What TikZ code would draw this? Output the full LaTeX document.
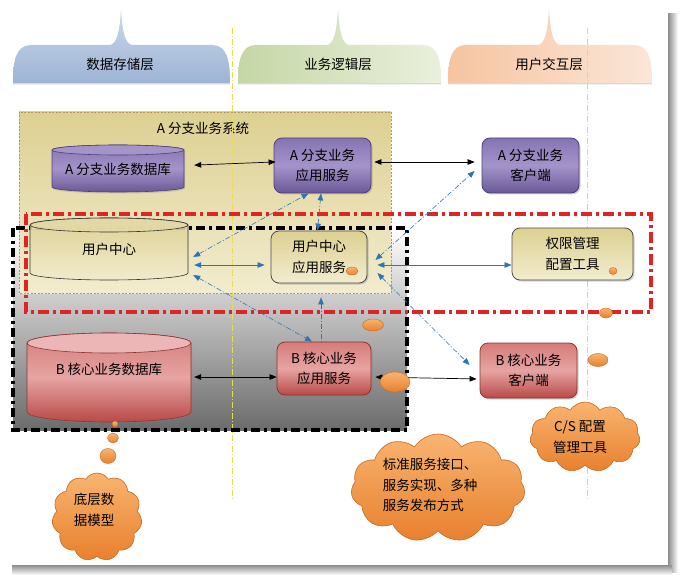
\documentclass[tikz,border=0pt]{standalone}
\usepackage{fontspec}
\setmainfont{Noto Sans CJK SC}
\usetikzlibrary{arrows.meta,shapes.symbols,shapes.geometric,shadows}

\definecolor{tabblue}{HTML}{B4C8E2}
\definecolor{tabbluedk}{HTML}{9DB4D4}
\definecolor{tabgreen}{HTML}{DCE6C6}
\definecolor{tabgreendk}{HTML}{C5D6A6}
\definecolor{taborange}{HTML}{F6C4A0}
\definecolor{taborangelt}{HTML}{FBE6D8}
\definecolor{khakitop}{HTML}{DDD092}
\definecolor{khakibot}{HTML}{F2ECCE}
\definecolor{khakiedge}{HTML}{B39A52}
\definecolor{purpletop}{HTML}{8674B2}
\definecolor{purplemid}{HTML}{A494CA}
\definecolor{purplebot}{HTML}{6A5896}
\definecolor{purpleedge}{HTML}{4E3F75}
\definecolor{redtop}{HTML}{D47C7A}
\definecolor{redmid}{HTML}{E6A4A2}
\definecolor{redbot}{HTML}{B84A48}
\definecolor{rededge}{HTML}{8C3432}
\definecolor{linkblue}{HTML}{2E75B6}
\definecolor{boxred}{HTML}{E02424}
\definecolor{guideyellow}{HTML}{E8DC50}
\definecolor{orangetop}{HTML}{F8B470}
\definecolor{orangebot}{HTML}{E8802E}
\definecolor{orangeedge}{HTML}{C86A20}

\begin{document}
\begin{tikzpicture}[x=1pt, y=-1pt, font=\fontsize{13.5}{20.5}\selectfont,
    >={Triangle[length=7pt,width=5.5pt]},
    blk/.style={<->, black, line width=0.7pt},
    blu/.style={<->, linkblue, line width=0.7pt},
    bludd/.style={<->, linkblue, line width=0.6pt, dash pattern=on 5pt off 2pt on 1pt off 2pt},
    guide/.style={guideyellow, line width=0.6pt, dash pattern=on 6pt off 2pt on 1pt off 2pt},
    svcbox/.style={rectangle, rounded corners=8pt, line width=0.8pt, align=center,
      minimum width=97, minimum height=55, inner sep=2pt,
      drop shadow={opacity=0.35, shadow xshift=1.5pt, shadow yshift=-1.5pt}},
    purplebox/.style={svcbox, draw=purpleedge, top color=purpletop, bottom color=purplebot, middle color=purplemid},
    redbox/.style={svcbox, draw=rededge, top color=redtop, bottom color=redbot, middle color=redmid},
    khakibox/.style={svcbox, draw=black!70, top color=khakitop, bottom color=khakibot},
    thought/.style={cloud, cloud puffs=11, cloud puff arc=115, cloud ignores aspect, draw=orangeedge, line width=0.6pt,
      top color=orangetop, bottom color=orangebot, inner sep=0pt},
    bubble/.style={draw=orangeedge, line width=0.4pt, top color=orangetop, bottom color=orangebot}]

    \useasboundingbox (0,0) rectangle (684,585);

    % cornice
    \fill[white] (0,0) rectangle (684,585);
    \shade[left color=black!45, right color=white] (668,14) rectangle (678,572);
    \shade[top color=black!45, bottom color=white] (12,565) rectangle (672,575);
    \fill[white] (6,6) rectangle (668,565);

    % livelli
    \shade[top color=tabblue!70, bottom color=tabbluedk, drop shadow={opacity=0.3, shadow xshift=0pt, shadow yshift=-1.5pt}]
      (13,83) .. controls (13,60) and (16,46) .. (30,45) -- (110,45)
      .. controls (117,44) and (120,30) .. (121,10) .. controls (122,30) and (125,44) .. (132,45)
      -- (213,45) .. controls (227,46) and (230,60) .. (230,83) -- cycle;
    \shade[left color=tabgreendk, right color=tabgreen!60, drop shadow={opacity=0.3, shadow xshift=0pt, shadow yshift=-1.5pt}]
      (238,83) .. controls (238,60) and (241,46) .. (255,45) -- (327,45)
      .. controls (334,44) and (337,30) .. (338,10) .. controls (339,30) and (342,44) .. (349,45)
      -- (424,45) .. controls (438,46) and (441,60) .. (441,83) -- cycle;
    \shade[left color=taborange, right color=taborangelt, drop shadow={opacity=0.3, shadow xshift=0pt, shadow yshift=-1.5pt}]
      (448,83) .. controls (448,60) and (451,46) .. (465,45) -- (538,45)
      .. controls (545,44) and (548,30) .. (549,10) .. controls (550,30) and (553,44) .. (560,45)
      -- (635,45) .. controls (649,46) and (652,60) .. (652,83) -- cycle;
    \node (hdata) at (120,64) {数据存储层};
    \node (hlogic) at (338,64) {业务逻辑层};
    \node (hui) at (549,64) {用户交互层};

    % riquadri
    \shade[top color=white, bottom color=black!58] (13,228) rectangle (407,430);
    \shadedraw[top color=khakitop, bottom color=khakibot, draw=khakiedge, line width=0.6pt,
      dash pattern=on 2pt off 1.5pt] (19,112) rectangle (391,293);
    \node (asys) at (203,128) {A 分支业务系统};

    \draw[guide] (232,28) -- (232,500);
    \draw[guide] (587,28) -- (587,500);

    \draw[black, line width=3.2pt, dash pattern=on 9pt off 4pt on 3pt off 4pt] (13,228) rectangle (407,430);
    \draw[boxred, line width=3.2pt, dash pattern=on 11pt off 4pt on 3pt off 4pt] (26,214) rectangle (651,312);

    % cilindri
    \shadedraw[top color=purpletop, bottom color=purplebot, middle color=purplemid, draw=purpleedge, line width=0.6pt,
      drop shadow={opacity=0.3, shadow xshift=1pt, shadow yshift=-1.5pt}]
      (52,150) -- (52,187) arc[start angle=180, end angle=360, x radius=66pt, y radius=5pt]
      -- (184,150) arc[start angle=0, end angle=180, x radius=66pt, y radius=5pt] -- cycle;
    \draw[purpleedge, fill=purplemid, line width=0.6pt] (118,150) ellipse[x radius=66pt, y radius=5pt];
    \node[minimum width=132, minimum height=47, inner sep=0pt] (dbA) at (118,169) {A 分支业务数据库};

    \shadedraw[top color=khakitop, bottom color=khakibot, draw=black!80, line width=0.6pt, fill opacity=0.9]
      (30,225) -- (30,273) arc[start angle=180, end angle=360, x radius=79pt, y radius=7pt]
      -- (188,225) arc[start angle=0, end angle=180, x radius=79pt, y radius=7pt] -- cycle;
    \draw[black!80, fill=khakitop!80, fill opacity=0.85, line width=0.6pt] (109,225) ellipse[x radius=79pt, y radius=7pt];
    \node[minimum width=158, minimum height=40, inner sep=0pt] (dbUC) at (109,249) {用户中心};

    \shadedraw[top color=redtop, bottom color=redbot, middle color=redmid, draw=rededge, line width=0.6pt,
      drop shadow={opacity=0.3, shadow xshift=1pt, shadow yshift=-1.5pt}]
      (27,343) -- (27,412) arc[start angle=180, end angle=360, x radius=82pt, y radius=10pt]
      -- (191,343) arc[start angle=0, end angle=180, x radius=82pt, y radius=10pt] -- cycle;
    \draw[rededge, fill=redmid!80!white, line width=0.6pt] (109,343) ellipse[x radius=82pt, y radius=10pt];
    \node[minimum width=164, minimum height=60, inner sep=0pt] (dbB) at (109,369) {B 核心业务数据库};

    % nodi
    \node[purplebox] (svcA) at (322.5,165.5) {A 分支业务\\应用服务};
    \node[purplebox] (cliA) at (530.5,165.5) {A 分支业务\\客户端};
    \node[khakibox, minimum width=96, minimum height=52] (svcUC) at (319,257) {用户中心\\应用服务};
    \node[khakibox, minimum width=121, minimum height=52] (perm) at (572.5,254) {权限管理\\配置工具};
    \node[redbox, minimum width=94, minimum height=53] (svcB) at (324,368.5) {B 核心业务\\应用服务};
    \node[redbox, minimum width=97] (cliB) at (528.5,370.5) {B 核心业务\\客户端};

    % collegamenti
    \draw[blk, shorten <=10pt, shorten >=-2pt] ([yshift=3.5pt]dbA.east) -- ([yshift=3.5pt]svcA.west);
    \draw[blk, shorten <=3pt, shorten >=7pt] ([yshift=3.5pt]svcA.east) -- ([yshift=3.5pt]cliA.west);
    \draw[blu, shorten <=6pt, shorten >=6pt] ([shift={(0,16)}]dbUC.east) -- ([shift={(0,8)}]svcUC.west);
    \draw[blu, shorten <=10pt] ([shift={(0,8)}]svcUC.east) -- ([shift={(0,11)}]perm.west);
    \draw[blk, shorten <=3pt] ([shift={(0,8)}]dbB.east) -- ([shift={(0,8.5)}]svcB.west);
    \draw[blk, shorten <=4pt, shorten >=3pt] ([shift={(0,8.5)}]svcB.east) -- ([shift={(0,8.5)}]cliB.west);
    \draw[bludd] ([xshift=-1.5pt]svcUC.north) -- ([xshift=-1.5pt]svcA.south);
    \draw[bludd, <-, shorten <=14pt] ([xshift=2pt]svcUC.south) -- ([xshift=-3pt]svcB.north);
    \draw[bludd] ([shift={(5,8)}]dbUC.east) -- ([shift={(-14,0)}]svcA.south);
    \draw[bludd] ([shift={(5,26)}]dbUC.east) -- ([shift={(-12,0)}]svcB.north);
    \draw[bludd] ([shift={(8,3)}]svcUC.east) -- ([shift={(-7,5.5)}]cliA.west);
    \draw[bludd] ([shift={(10,16)}]svcUC.east) -- ([shift={(-10,-5.5)}]cliB.west);

    % nuvole
    \shade[bubble] (352,271) ellipse[x radius=6pt, y radius=4pt];
    \shade[bubble] (373,325) ellipse[x radius=10.5pt, y radius=6pt];
    \shade[bubble] (395,382) ellipse[x radius=15pt, y radius=10pt];
    \shade[bubble] (613,271) ellipse[x radius=4pt, y radius=3.5pt];
    \shade[bubble] (606,313) ellipse[x radius=6.5pt, y radius=5pt];
    \shade[bubble] (598,360) ellipse[x radius=10pt, y radius=6.5pt];
    \shade[bubble] (115,424) ellipse[x radius=3pt, y radius=3pt];
    \shade[bubble] (113,438) ellipse[x radius=5.5pt, y radius=5pt];
    \shade[bubble] (108,456) ellipse[x radius=8pt, y radius=7.5pt];

    \node[thought, minimum width=90, minimum height=88] (cloudD) at (97,517) {};
    \node[align=left] (cloudDtxt) at (94,510) {底层数\\据模型};
    \node[thought, minimum width=174, minimum height=108] (cloudS) at (438,488) {};
    \node[align=left] (cloudStxt) at (430,485) {标准服务接口、\\服务实现、多种\\服务发布方式};
    \node[thought, minimum width=110, minimum height=70] (cloudC) at (585,437) {};
    \node[align=center] (cloudCtxt) at (580,437) {C/S 配置\\管理工具};
\end{tikzpicture}
\end{document}
